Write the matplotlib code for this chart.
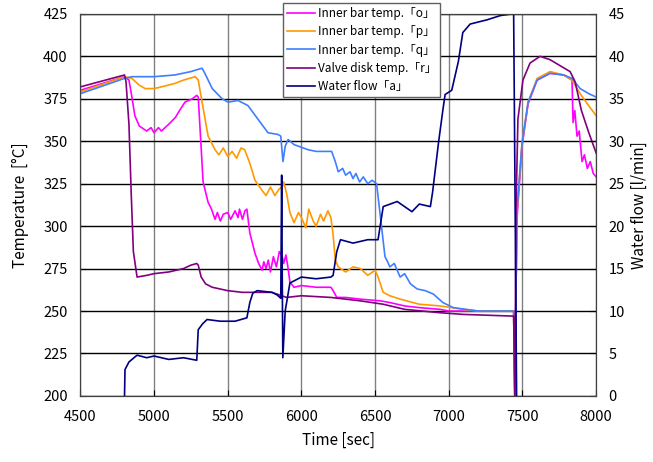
import matplotlib
matplotlib.use("Agg")
import matplotlib.pyplot as plt

plt.rcParams['font.family'] = ['Noto Sans CJK JP', 'DejaVu Sans']

# Inner bar temp. o (magenta)
o_t = [4500, 4800, 4830, 4850, 4870, 4900, 4950, 4980, 5000, 5030, 5050, 5100, 5145, 5180, 5210,
       5260, 5290, 5300, 5312, 5333, 5367, 5390, 5414, 5430, 5450, 5470, 5500, 5520, 5550, 5570,
       5580, 5600, 5617, 5630, 5650, 5685, 5710, 5733, 5745, 5760, 5775, 5790, 5810, 5830, 5850,
       5870, 5880, 5895, 5910, 5922, 5950, 6000, 6100, 6200, 6215, 6240, 6300, 6400, 6535, 6600,
       6700, 6800, 6940, 7000, 7200, 7440, 7448, 7456, 7463, 7497, 7538, 7599, 7687, 7780, 7836,
       7843, 7855, 7870, 7885, 7904, 7920, 7940, 7960, 7980, 8000]
o_T = [380, 388, 386, 376, 365, 359, 356, 358, 355, 358, 356, 360, 364, 369, 373,
       375, 377, 376, 358, 326, 314, 310, 304, 308, 303, 307, 308, 304, 309, 305,
       310, 304, 309, 310, 296, 284, 278, 274, 279, 275, 280, 273, 282, 276, 285,
       282, 278, 283, 275, 267, 264, 265, 264, 264, 262, 258, 258, 257, 256, 255,
       253, 252, 251, 250, 250, 250, 198, 262, 305, 347, 372, 386, 390, 389, 386,
       361, 368, 353, 356, 338, 342, 334, 338, 331, 329]

# Inner bar temp. p (orange)
p_t = [4500, 4800, 4850, 4900, 4940, 5000, 5050, 5140, 5200, 5280, 5300, 5326, 5367, 5414, 5440,
       5470, 5500, 5530, 5560, 5590, 5615, 5650, 5685, 5733, 5760, 5790, 5820, 5850, 5870, 5880,
       5900, 5922, 5950, 5980, 6000, 6030, 6050, 6080, 6100, 6130, 6150, 6180, 6200, 6215, 6230,
       6250, 6300, 6350, 6400, 6450, 6500, 6520, 6555, 6600, 6670, 6800, 6940, 7100, 7200, 7440,
       7448, 7456, 7463, 7497, 7538, 7599, 7687, 7780, 7836, 7891, 7940, 8000]
p_T = [379, 388, 387, 383, 381, 381, 382, 384, 386, 388, 386, 373, 353, 345, 342,
       346, 341, 344, 340, 346, 345, 337, 327, 321, 318, 323, 318, 322, 323, 326,
       319, 308, 302, 308, 305, 299, 310, 303, 300, 307, 303, 309, 305, 295, 280,
       276, 273, 276, 275, 271, 274, 270, 261, 259, 257, 254, 253, 251, 250, 250,
       198, 262, 309, 349, 373, 387, 391, 389, 386, 378, 372, 365]

# Inner bar temp. q (blue)
q_t = [4500, 4800, 4850, 5000, 5140, 5250, 5326, 5345, 5395, 5462, 5503, 5570, 5637, 5705, 5773,
       5840, 5860, 5875, 5890, 5910, 5950, 6045, 6100, 6205, 6230, 6250, 6280, 6300, 6330, 6350,
       6370, 6395, 6420, 6450, 6480, 6510, 6530, 6567, 6585, 6600, 6630, 6670, 6700, 6740, 6785,
       6840, 6895, 6960, 7030, 7200, 7440, 7448, 7456, 7463, 7497, 7538, 7599, 7687, 7780, 7836,
       7891, 7950, 8000]
q_T = [378, 387, 388, 388, 389, 391, 393, 390, 381, 375, 373, 374, 371, 363, 355,
       354, 353, 338, 347, 351, 348, 345, 344, 344, 338, 332, 334, 330, 332, 328,
       331, 326, 329, 325, 327, 325, 310, 282, 279, 276, 278, 270, 272, 266, 263,
       262, 260, 255, 252, 250, 250, 198, 262, 310, 349, 373, 386, 390, 389, 387,
       381, 378, 376]

# Valve disk temp. r (purple)
r_t = [4500, 4800, 4810, 4830, 4845, 4860, 4885, 4950, 5000, 5100, 5200, 5250, 5290, 5300, 5320,
       5350, 5395, 5500, 5600, 5700, 5800, 5900, 6000, 6200, 6400, 6555, 6700, 6940, 7100, 7440,
       7448, 7456, 7469, 7503, 7551, 7619, 7687, 7823, 7857, 7900, 7950, 8000]
r_T = [382, 389, 385, 360, 320, 285, 270, 271, 272, 273, 275, 277, 278, 277, 270,
       266, 264, 262, 261, 261, 261, 258, 259, 258, 256, 254, 251, 249, 248, 247,
       198, 310, 363, 386, 396, 400, 398, 391, 385, 368, 355, 343]

# Water flow a (navy, right axis)
a_t = [4800, 4803, 4830, 4885, 4950, 5000, 5100, 5200, 5290, 5300, 5330, 5360, 5450, 5550, 5630,
       5650, 5670, 5700, 5800, 5835, 5860, 5866, 5870, 5874, 5890, 5922, 6000, 6100, 6200, 6215,
       6240, 6265, 6350, 6450, 6520, 6555, 6650, 6750, 6800, 6875, 6890, 6910, 6930, 6960, 6975,
       7020, 7065, 7095, 7145, 7260, 7350, 7430, 7440, 7460]
a_F = [0, 3.1, 4.0, 4.8, 4.5, 4.7, 4.3, 4.5, 4.2, 7.8, 8.5, 9.0, 8.8, 8.8, 9.2,
       11.0, 12.1, 12.4, 12.2, 11.9, 11.5, 26, 14, 4.5, 10, 13.3, 14.0, 13.8, 14.0, 14.2,
       17, 18.4, 18.0, 18.4, 18.4, 22.3, 22.9, 21.7, 22.6, 22.3, 24, 26.9, 29.8, 33.7, 35.5,
       36, 39.4, 42.8, 43.8, 44.3, 44.8, 45, 45, 0]

labels = ['Inner bar temp.「o」', 'Inner bar temp.「p」', 'Inner bar temp.「q」',
          'Valve disk temp.「r」', 'Water flow「a」']
colors = ['#FF00FF', '#FF9900', '#3F7FFF', '#800080', '#000080']

fig = plt.figure(figsize=(6.53, 4.62), dpi=100)
ax = fig.add_axes([0.123, 0.143, 0.790, 0.827])
ax2 = ax.twinx()

h1, = ax.plot(o_t, o_T, color=colors[0], lw=1.2, label=labels[0])
h2, = ax.plot(p_t, p_T, color=colors[1], lw=1.2, label=labels[1])
h3, = ax.plot(q_t, q_T, color=colors[2], lw=1.2, label=labels[2])
h4, = ax.plot(r_t, r_T, color=colors[3], lw=1.2, label=labels[3])
h5, = ax2.plot(a_t, a_F, color=colors[4], lw=1.2, label=labels[4])

ax.set_xlim(4500, 8000)
ax.set_ylim(200, 425)
ax2.set_ylim(0, 45)
ax.set_xticks(range(4500, 8001, 500))
ax.set_yticks(range(200, 426, 25))
ax2.set_yticks(range(0, 46, 5))

ax.grid(axis='y', color='black', lw=1)
ax.grid(axis='x', color='#808080', lw=1)
ax.set_axisbelow(True)
ax.tick_params(direction='in', labelsize=10.5, length=4)
ax.tick_params(axis='x', pad=10)
ax.tick_params(axis='y', pad=9)
ax2.tick_params(direction='in', labelsize=10.5, length=4, pad=9)
for s in ax.spines.values():
    s.set_color('#404040')
for s in ax2.spines.values():
    s.set_color('#404040')

ax.set_xlabel('Time [sec]', fontsize=11, labelpad=6)
ax.set_ylabel('Temperature  [°C]', fontsize=11, labelpad=10)
ax2.set_ylabel('Water flow [l/min]', fontsize=11)

leg = ax2.legend(handles=[h1, h2, h3, h4, h5], loc='upper left',
                 bbox_to_anchor=(0.433, 0.994), bbox_transform=fig.transFigure,
                 fontsize=8.5, handlelength=2.4, handletextpad=0.2, labelspacing=0.45,
                 borderpad=0.35, borderaxespad=0, fancybox=False, framealpha=1,
                 edgecolor='#606060')
leg.get_frame().set_linewidth(1)

fig.savefig('out.png', dpi=100)
